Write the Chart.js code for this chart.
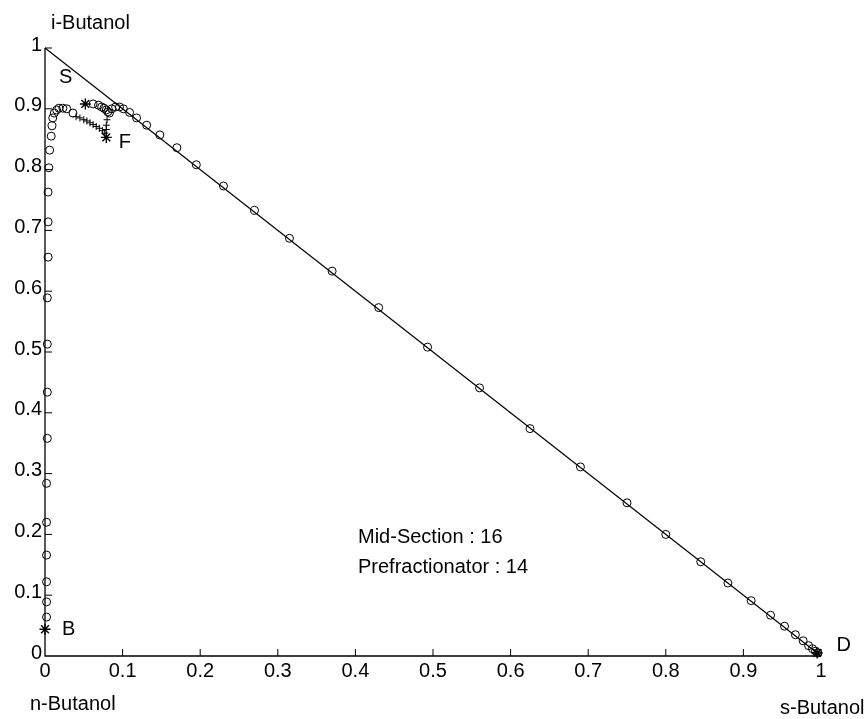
<!DOCTYPE html>
<html>
<head>
<meta charset="utf-8">
<script src="https://cdn.jsdelivr.net/npm/chart.js@4.4.1/dist/chart.umd.min.js"></script>
<style>
  body { margin: 0; background: #fff; }
  #c { display: block; }
</style>
</head>
<body>
<canvas id="c" width="867" height="719"></canvas>
<script>
// column profile (circles): x = s-Butanol, y = i-Butanol
const columnX = [0.002, 0.002, 0.002, 0.002, 0.002, 0.002, 0.003, 0.003, 0.003, 0.003, 0.004, 0.004, 0.004,
  0.005, 0.006, 0.008, 0.009, 0.010, 0.012, 0.015, 0.018, 0.023, 0.028, 0.036,
  0.062, 0.069, 0.073, 0.076, 0.079, 0.081, 0.083, 0.086, 0.091, 0.096, 0.101, 0.109, 0.118, 0.131, 0.148,
  0.170, 0.195, 0.230, 0.270, 0.315, 0.370, 0.430, 0.493, 0.560, 0.625, 0.690, 0.750, 0.800, 0.845,
  0.880, 0.910, 0.935, 0.953, 0.967, 0.977, 0.984, 0.989, 0.993, 0.996];
const columnY = [0.064, 0.089, 0.122, 0.166, 0.220, 0.284, 0.358, 0.434, 0.513, 0.589, 0.656, 0.714, 0.763,
  0.803, 0.832, 0.855, 0.872, 0.885, 0.893, 0.898, 0.901, 0.901, 0.900, 0.893,
  0.908, 0.906, 0.903, 0.901, 0.898, 0.895, 0.893, 0.900, 0.903, 0.903, 0.900, 0.894, 0.885, 0.873, 0.857,
  0.836, 0.808, 0.773, 0.733, 0.687, 0.633, 0.573, 0.508, 0.441, 0.374, 0.311, 0.252, 0.200, 0.155,
  0.120, 0.091, 0.067, 0.049, 0.035, 0.025, 0.017, 0.012, 0.008, 0.005];

// prefractionator profile (plus marks)
const prefracX = [0.040, 0.045, 0.050, 0.054, 0.058, 0.062, 0.066, 0.070, 0.074, 0.077, 0.079, 0.079, 0.080];
const prefracY = [0.887, 0.885, 0.882, 0.880, 0.877, 0.874, 0.871, 0.868, 0.864, 0.860, 0.866, 0.873, 0.882];

// feed / product points (stars)
const starX = [0.052, 0.079, 0.000, 0.995];
const starY = [0.908, 0.853, 0.044, 0.005];

// triangle edge
const edgeX = [0, 1];
const edgeY = [1, 0];

const tickValues = [0, 0.1, 0.2, 0.3, 0.4, 0.5, 0.6, 0.7, 0.8, 0.9, 1];
const tickLabels = ['0', '0.1', '0.2', '0.3', '0.4', '0.5', '0.6', '0.7', '0.8', '0.9', '1'];

const pointLabels = [
  { text: 'S', x: 0.018, y: 0.952 },
  { text: 'F', x: 0.095, y: 0.845 },
  { text: 'B', x: 0.022, y: 0.044 },
  { text: 'D', x: 1.020, y: 0.018 }
];

const FONT = '"Liberation Sans", Arial, sans-serif';

const toXY = (xs, ys) => xs.map((x, i) => ({ x: x, y: ys[i] }));

const axesPlugin = {
  id: 'ternaryAxes',
  beforeDatasetsDraw(chart) {
    const { ctx, scales: { x, y } } = chart;
    const x0 = x.getPixelForValue(0), x1 = x.getPixelForValue(1);
    const y0 = y.getPixelForValue(0), y1 = y.getPixelForValue(1);
    ctx.save();
    ctx.strokeStyle = '#000';
    ctx.lineWidth = 1.3;
    ctx.beginPath();
    ctx.moveTo(x0, y1);
    ctx.lineTo(x0, y0);
    ctx.lineTo(x1, y0);
    ctx.stroke();
    ctx.lineWidth = 1;
    ctx.beginPath();
    tickValues.forEach(v => {
      const px = x.getPixelForValue(v);
      const py = y.getPixelForValue(v);
      if (v > 0) {
        ctx.moveTo(px, y0);
        ctx.lineTo(px, y0 - 7);
        ctx.moveTo(x0, py);
        ctx.lineTo(x0 + 7, py);
      }
    });
    ctx.stroke();

    ctx.fillStyle = '#000';
    ctx.font = '20px ' + FONT;
    ctx.textBaseline = 'middle';
    tickValues.forEach((v, i) => {
      ctx.textAlign = 'center';
      ctx.fillText(tickLabels[i], x.getPixelForValue(v), y0 + 15);
      ctx.textAlign = 'right';
      ctx.fillText(tickLabels[i], x0 - 3, y.getPixelForValue(v) - 3);
    });
    ctx.restore();
  },
  afterDraw(chart) {
    const { ctx, scales: { x, y } } = chart;
    ctx.save();
    ctx.fillStyle = '#000';
    ctx.textBaseline = 'middle';
    ctx.textAlign = 'left';
    ctx.font = '20px ' + FONT;
    pointLabels.forEach(l => {
      ctx.fillText(l.text, x.getPixelForValue(l.x), y.getPixelForValue(l.y));
    });
    ctx.fillText('i-Butanol', 51, 23);
    ctx.fillText('n-Butanol', 30, 704);
    ctx.fillText('s-Butanol', 780, 708);
    ctx.fillText('Mid-Section : 16', 358, 537);
    ctx.fillText('Prefractionator : 14', 358, 567);
    ctx.restore();
  }
};

new Chart(document.getElementById('c'), {
  type: 'scatter',
  data: {
    datasets: [
      {
        type: 'line',
        data: toXY(edgeX, edgeY),
        borderColor: '#000',
        borderWidth: 1.2,
        pointRadius: 0,
        clip: false
      },
      {
        data: toXY(columnX, columnY),
        pointStyle: 'circle',
        pointRadius: 4,
        borderColor: '#000',
        borderWidth: 1,
        backgroundColor: 'rgba(0,0,0,0)',
        clip: false
      },
      {
        data: toXY(prefracX, prefracY),
        pointStyle: 'cross',
        pointRadius: 3.5,
        borderColor: '#000',
        borderWidth: 1,
        clip: false
      },
      {
        data: toXY(starX, starY),
        pointStyle: 'star',
        pointRadius: 5.5,
        borderColor: '#000',
        borderWidth: 1.4,
        clip: false
      }
    ]
  },
  options: {
    responsive: false,
    animation: false,
    devicePixelRatio: 1,
    layout: { padding: { left: 45, right: 46, top: 48, bottom: 63 } },
    scales: {
      x: { type: 'linear', min: 0, max: 1, display: false },
      y: { type: 'linear', min: 0, max: 1, display: false }
    },
    plugins: {
      legend: { display: false },
      tooltip: { enabled: false }
    }
  },
  plugins: [axesPlugin]
});
</script>
</body>
</html>
